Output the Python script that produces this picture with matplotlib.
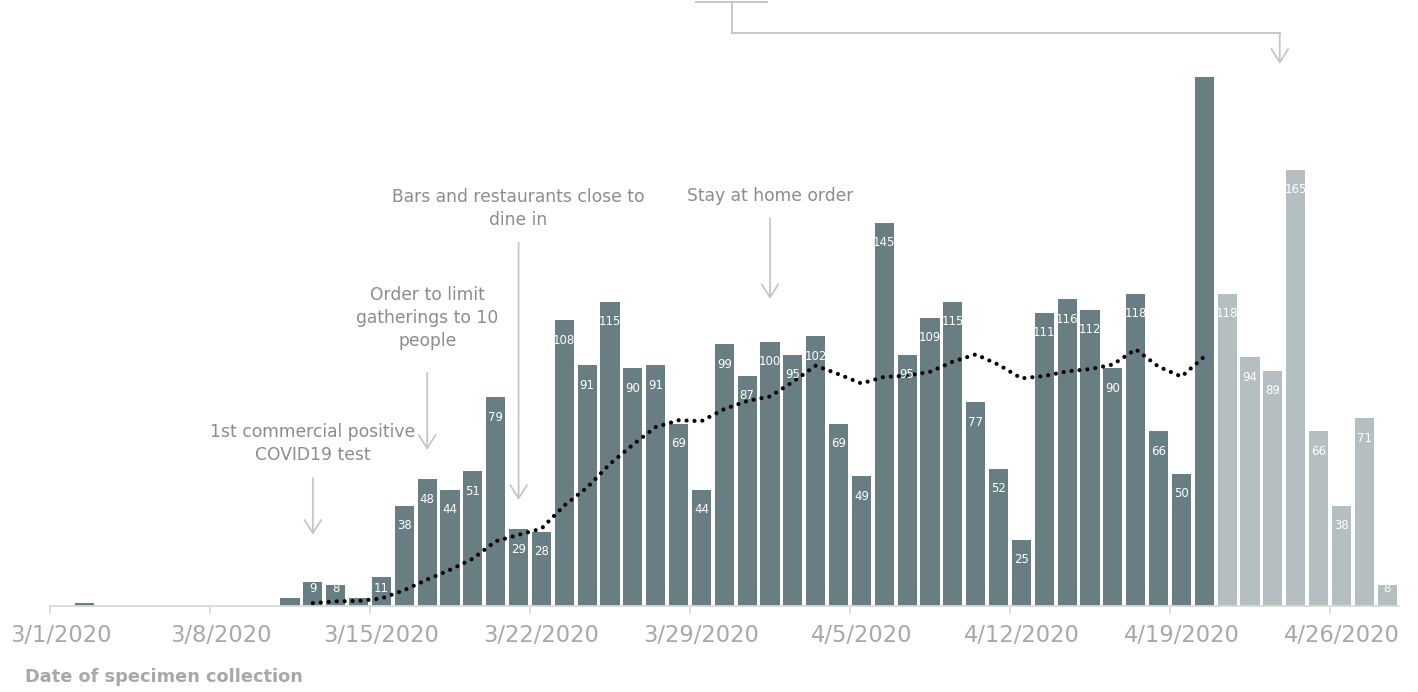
import numpy as np
import pandas as pd
import matplotlib
matplotlib.use("Agg")
import matplotlib.pyplot as plt

# ---------------- data ----------------
values = [0, 1, 0, 0, 0, 0, 0, 0, 0, 0,
          3, 9, 8, 3, 11, 38, 48, 44, 51, 79,
          29, 28, 108, 91, 115, 90, 91, 69, 44, 99,
          87, 100, 95, 102, 69, 49, 145, 95, 109, 115,
          77, 52, 25, 111, 116, 112, 90, 118, 66, 50,
          200, 118, 94, 89, 165, 66, 38, 71, 8]
bar_labels = ['', '', '', '', '', '', '', '', '', '',
              '', '9', '8', '', '11', '38', '48', '44', '51', '79',
              '29', '28', '108', '91', '115', '90', '91', '69', '44', '99',
              '87', '100', '95', '102', '69', '49', '145', '95', '109', '115',
              '77', '52', '25', '111', '116', '112', '90', '118', '66', '50',
              '', '118', '94', '89', '165', '66', '38', '71', '8']
provisional_start = 51          # bars from 4/21 on are lighter
ma_window = 12
tick_labels = ['3/1/2020', '3/8/2020', '3/15/2020', '3/22/2020', '3/29/2020',
               '4/5/2020', '4/12/2020', '4/19/2020', '4/26/2020']
annotations = [
    ("1st commercial positive\nCOVID19 test", 11.0, 61.5, 48.4, 26.9),
    ("Order to limit\ngatherings to 10\npeople", 16.0, 108.8, 88.2, 59.0),
    ("Bars and restaurants close to\ndine in", 20.0, 150.4, 137.4, 40.1),
    ("Stay at home order", 31.0, 155.0, 146.7, 116.1),
]
xlabel = "Date of specimen collection"

# ---------------- style ----------------
DARK = '#687e82'
LIGHT = '#b5bfc1'
AXIS = '#d9d9d9'
TICKTXT = '#a8a8a8'
ANNTXT = '#8c8c8c'
ARROW = '#c6c6c6'

W, H = 1418, 692
fig = plt.figure(figsize=(W / 100, H / 100), dpi=100)
ax = fig.add_axes([50 / W, (H - 606) / H, 1348.6 / W, 606 / H])

n = len(values)
x = np.arange(n)
colors = [DARK if i < provisional_start else LIGHT for i in x]
ax.bar(x, values, width=0.84, color=colors, linewidth=0, zorder=2)

ax.set_xlim(-0.5, n - 0.5)
ymax = 606 / 2.644
ax.set_ylim(0, ymax)

# bar value labels (inside end)
for i, (v, lab) in enumerate(zip(values, bar_labels)):
    if lab:
        ax.text(i, max(v - 7.56, 6.8), lab, ha='center', va='center',
                color='white', fontsize=8.5, family='DejaVu Sans', zorder=4)

# moving average (trailing, 12 periods) of confirmed bars
s = pd.Series(values[:provisional_start], dtype=float)
ma = s.rolling(ma_window).mean()
ax.plot(np.arange(provisional_start), ma.values, color='black',
        lw=3.0, linestyle=(0, (0.01, 1.9)), dash_capstyle='round', zorder=3)

# axes styling
for sp in ['top', 'right', 'left']:
    ax.spines[sp].set_visible(False)
ax.spines['bottom'].set_color(AXIS)
ax.spines['bottom'].set_linewidth(1.3)
ax.set_yticks([])
major = np.arange(-0.5, n, 7)
ax.set_xticks(major)
ax.set_xticklabels([''] * len(major))
ax.tick_params(axis='x', which='major', length=5.5, width=1.2, color=AXIS)
ax.set_xticks(np.arange(0, n, 7), minor=True)
ax.set_xticklabels(tick_labels, minor=True)
ax.tick_params(axis='x', which='minor', length=0, pad=13, labelsize=16.3,
               labelcolor=TICKTXT)
for t in ax.get_xticklabels(minor=True):
    t.set_family('DejaVu Sans')

fig.text(25 / W, 1 - 677 / H, xlabel, ha='left', va='center',
         fontsize=12.8, fontweight='bold', color=TICKTXT,
         family='DejaVu Sans')

# event annotations
aprops = dict(arrowstyle='->,head_length=0.95,head_width=0.6', color=ARROW,
              lw=1.3, shrinkA=0, shrinkB=0, mutation_scale=10)
for text, xi, ytxt, y0, y1 in annotations:
    ax.text(xi, ytxt, text, ha='center', va='center', fontsize=12.3,
            color=ANNTXT, linespacing=1.35, family='DejaVu Sans', zorder=5)
    ax.annotate('', xy=(xi, y1), xytext=(xi, y0), arrowprops=aprops,
                annotation_clip=False)

# top connector annotation
ax.plot([27.76, 30.86], [228.4, 228.4], color=ARROW, lw=1.4, clip_on=False)
ax.plot([29.33, 29.33, 53.3], [228.4, 216.7, 216.7], color=ARROW, lw=1.4,
        clip_on=False, solid_joinstyle='miter')
ax.annotate('', xy=(53.3, 205.0), xytext=(53.3, 216.7), arrowprops=aprops,
            annotation_clip=False)

fig.savefig('out.png', dpi=100)
